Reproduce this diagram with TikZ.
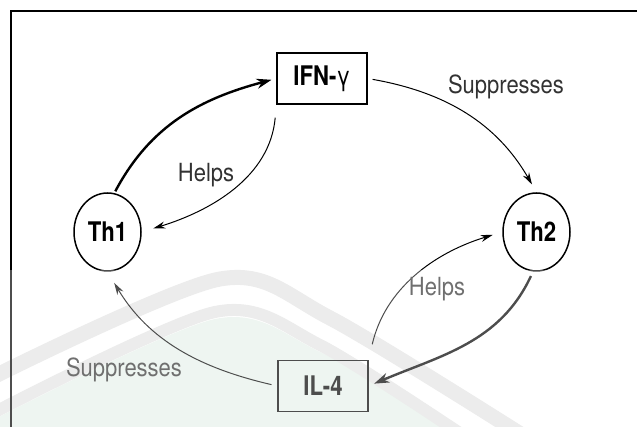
\documentclass[tikz,border=0pt]{standalone}
\usepackage{fontspec}
\setmainfont{TeX Gyre Heros}[FakeStretch=0.88]
\newfontfamily\nodefont{TeX Gyre Heros}[FakeStretch=0.82]
\usetikzlibrary{arrows.meta,shapes.geometric}
\definecolor{wmgray}{RGB}{228,228,228}
\definecolor{wmgreen}{RGB}{231,242,235}
\definecolor{labelgray}{RGB}{50,50,50}
\begin{document}
\begin{tikzpicture}[x=1pt,y=1pt,
  box/.style={draw, line width=1.3pt, minimum width=90pt, minimum height=51pt, inner sep=0pt,
    font=\nodefont\bfseries\fontsize{27}{30}\selectfont},
  cell/.style={draw, ellipse, line width=1.5pt, minimum width=67pt, minimum height=78pt, inner sep=0pt,
    font=\nodefont\bfseries\fontsize{27}{30}\selectfont},
  lab/.style={text=labelgray, font=\fontsize{25}{30}\selectfont, inner sep=0pt},
  thinarrow/.style={line width=1pt, -{Stealth[length=12pt,width=7pt]}},
  thickarrow/.style={line width=2.4pt, -{Stealth[length=15pt,width=10pt]}},
]
\useasboundingbox (0,0) rectangle (637,427);
\begin{scope}
\clip (0,0) rectangle (637,427);
% watermark
\fill[wmgreen] plot[smooth] coordinates {(-5,8) (215,108) (320,75) (470,-13)} -- (-5,-13) -- cycle;
\draw[wmgray, line width=15pt] plot[smooth] coordinates {(-5,51) (220,148) (330,109) (530,-13)};
\draw[wmgray, line width=12pt] plot[smooth] coordinates {(-5,15) (215,115) (320,82) (470,-13)};
\end{scope}
% frame
\draw[line width=2pt] (11,0) -- (11,416) -- (637,416);
% nodes
\node[box] (ifn) at (322,348.5) {IFN-{\mdseries γ}};
\node[box] (il4) at (323,41) {IL-4};
\node[cell] (th1) at (107.5,195) {Th1};
\node[cell] (th2) at (536.5,195) {Th2};
% connectors
\draw[thickarrow, shorten <=2pt, shorten >=5pt] (th1.80) to[out=62,in=195] (ifn.west);
\draw[thinarrow, shorten <=13pt, shorten >=12pt] (ifn.south west) to[out=265,in=17] (th1.east);
\draw[thinarrow, shorten <=5pt, shorten >=9pt] (ifn.east) to[out=-10,in=120] (th2.north);
\draw[thickarrow, shorten <=5pt, shorten >=6pt] (th2.265) to[out=245,in=23] (il4.east);
\draw[thinarrow, shorten <=16pt, shorten >=10pt] (il4.north east) to[out=77,in=197] (th2.west);
\draw[thinarrow, shorten <=6pt, shorten >=13pt] (il4.west) to[out=167,in=301] (th1.south);
% labels
\node[lab] (l1) at (206,252) {Helps};
\node[lab] (l2) at (506,340) {Suppresses};
\node[lab] (l3) at (437,138) {Helps};
\node[lab] (l4) at (124,57) {Suppresses};
% watermark veil
\fill[white, opacity=0.3] (0,0) rectangle (637,157);
\end{tikzpicture}
\end{document}
